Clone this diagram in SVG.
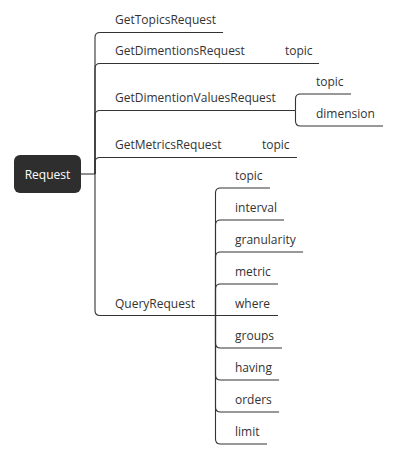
<svg xmlns="http://www.w3.org/2000/svg" width="401" height="460" viewBox="0 0 401 460">
<style>
.ln{fill:none;stroke:#333;stroke-width:1.1}
.t{font-family:"Open Sans","Liberation Sans",sans-serif;font-size:12px;fill:#333}
.rt{font-family:"Open Sans","Liberation Sans",sans-serif;font-size:12px;fill:#fff}
</style>
<rect width="401" height="460" fill="#fff"/>
<g id="connectors">
<path class="ln" d="M81,174 H95"/>
<path class="ln" d="M95,174 V37.5 Q95,32.5 100,32.5 H223"/>
<path class="ln" d="M95,174 V68.5 Q95,63.5 100,63.5 H319"/>
<path class="ln" d="M95,174 V115.5 Q95,110.5 100,110.5 H295.5"/>
<path class="ln" d="M95,174 V162.5 Q95,157.5 100,157.5 H297"/>
<path class="ln" d="M95,174 V310.5 Q95,315.5 100,315.5 H215.5"/>
<path class="ln" d="M295.5,110.5 V99 Q295.5,94 300.5,94 H351"/>
<path class="ln" d="M295.5,110.5 V121 Q295.5,126 300.5,126 H383"/>
<path class="ln" d="M215.5,315.5 V193 Q215.5,188 220.5,188 H270"/>
<path class="ln" d="M215.5,315.5 V225 Q215.5,220 220.5,220 H284"/>
<path class="ln" d="M215.5,315.5 V257 Q215.5,252 220.5,252 H303"/>
<path class="ln" d="M215.5,315.5 V289 Q215.5,284 220.5,284 H278"/>
<path class="ln" d="M215.5,315.5 H278"/>
<path class="ln" d="M215.5,315.5 V343 Q215.5,348 220.5,348 H282"/>
<path class="ln" d="M215.5,315.5 V375 Q215.5,380 220.5,380 H279"/>
<path class="ln" d="M215.5,315.5 V407 Q215.5,412 220.5,412 H279"/>
<path class="ln" d="M215.5,315.5 V439 Q215.5,444 220.5,444 H267"/>
</g>
<g id="request">
<rect x="14" y="155" width="67" height="38" rx="6" fill="#2e2e2e"/>
<text class="rt" x="47.5" y="178.5" text-anchor="middle">Request</text>
</g>
<g id="getTopicsRequest"><text class="t" x="115" y="24">GetTopicsRequest</text></g>
<g id="getDimentionsRequest"><text class="t" x="115" y="55">GetDimentionsRequest</text></g>
<g id="getDimentionsRequest-topic"><text class="t" x="285" y="55">topic</text></g>
<g id="getDimentionValuesRequest"><text class="t" x="115" y="102">GetDimentionValuesRequest</text></g>
<g id="gdv-topic"><text class="t" x="316" y="86">topic</text></g>
<g id="gdv-dimension"><text class="t" x="316" y="118">dimension</text></g>
<g id="getMetricsRequest"><text class="t" x="115" y="149">GetMetricsRequest</text></g>
<g id="getMetricsRequest-topic"><text class="t" x="262" y="149">topic</text></g>
<g id="queryRequest"><text class="t" x="115" y="307.5">QueryRequest</text></g>
<g id="q-topic"><text class="t" x="235" y="180">topic</text></g>
<g id="q-interval"><text class="t" x="235" y="212">interval</text></g>
<g id="q-granularity"><text class="t" x="235" y="244">granularity</text></g>
<g id="q-metric"><text class="t" x="235" y="276">metric</text></g>
<g id="q-where"><text class="t" x="235" y="307.5">where</text></g>
<g id="q-groups"><text class="t" x="235" y="340">groups</text></g>
<g id="q-having"><text class="t" x="235" y="372">having</text></g>
<g id="q-orders"><text class="t" x="235" y="404">orders</text></g>
<g id="q-limit"><text class="t" x="235" y="436">limit</text></g>
</svg>
